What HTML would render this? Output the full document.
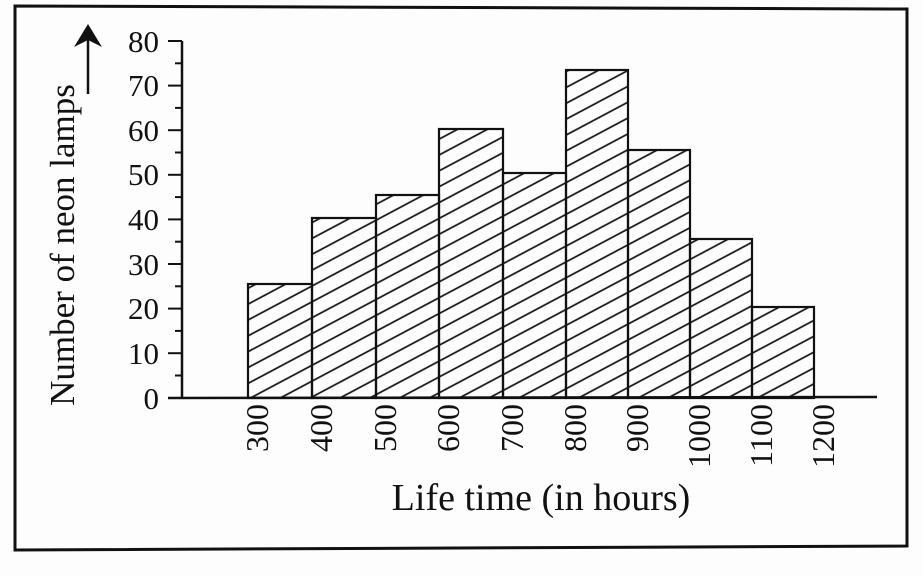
<!DOCTYPE html>
<html><head><style>body{margin:0;background:#fff}</style></head><body>
<svg width="923" height="577" xmlns="http://www.w3.org/2000/svg" font-family="Liberation Serif, serif">
<defs>
<pattern id="h" patternUnits="userSpaceOnUse" width="14" height="14" patternTransform="rotate(-28)">
<line x1="0" y1="7" x2="14" y2="7" stroke="#111" stroke-width="1.7"/>
</pattern>
</defs>
<rect x="0" y="0" width="923" height="577" fill="#fdfdfd"/>
<path d="M15 6 L907 9 L907 546 L15 550 Z" fill="none" stroke="#111" stroke-width="3"/>
<line x1="182" y1="41" x2="182" y2="398" stroke="#111" stroke-width="2.5"/>
<line x1="168" y1="398" x2="877" y2="397" stroke="#111" stroke-width="2.5"/>
<g stroke="#111" stroke-width="2">
<line x1="168" y1="41" x2="182" y2="41"/><line x1="168" y1="85.6" x2="182" y2="85.6"/><line x1="168" y1="130.2" x2="182" y2="130.2"/><line x1="168" y1="174.8" x2="182" y2="174.8"/><line x1="168" y1="219.4" x2="182" y2="219.4"/><line x1="168" y1="264" x2="182" y2="264"/><line x1="168" y1="308.6" x2="182" y2="308.6"/><line x1="168" y1="353.2" x2="182" y2="353.2"/>
<line x1="175" y1="63.3" x2="182" y2="63.3"/><line x1="175" y1="107.9" x2="182" y2="107.9"/><line x1="175" y1="152.5" x2="182" y2="152.5"/><line x1="175" y1="197.1" x2="182" y2="197.1"/><line x1="175" y1="241.7" x2="182" y2="241.7"/><line x1="175" y1="286.3" x2="182" y2="286.3"/><line x1="175" y1="330.9" x2="182" y2="330.9"/><line x1="175" y1="375.5" x2="182" y2="375.5"/>
</g>
<g font-size="31" fill="#111" text-anchor="end">
<text x="159" y="52">80</text><text x="159" y="96">70</text><text x="159" y="141">60</text><text x="159" y="185">50</text><text x="159" y="230">40</text><text x="159" y="275">30</text><text x="159" y="319">20</text><text x="159" y="364">10</text><text x="159" y="409">0</text>
</g>
<g fill="url(#h)" stroke="#111" stroke-width="2.2">
<rect x="248" y="284" width="64" height="114"/>
<rect x="312" y="218" width="64" height="180"/>
<rect x="376" y="195" width="63" height="203"/>
<rect x="439" y="129" width="64" height="269"/>
<rect x="503" y="173" width="63" height="225"/>
<rect x="566" y="70" width="62" height="328"/>
<rect x="628" y="150" width="62" height="248"/>
<rect x="690" y="239" width="62" height="159"/>
<rect x="752" y="307" width="62" height="91"/>
</g>
<g font-size="32" fill="#111" text-anchor="end">
<text transform="translate(268,404) rotate(-90)">300</text>
<text transform="translate(332,404) rotate(-90)">400</text>
<text transform="translate(396,404) rotate(-90)">500</text>
<text transform="translate(459,404) rotate(-90)">600</text>
<text transform="translate(523,404) rotate(-90)">700</text>
<text transform="translate(586,404) rotate(-90)">800</text>
<text transform="translate(648,404) rotate(-90)">900</text>
<text transform="translate(710,404) rotate(-90)">1000</text>
<text transform="translate(772,404) rotate(-90)">1100</text>
<text transform="translate(834,404) rotate(-90)">1200</text>
</g>
<text x="541" y="510" font-size="38" text-anchor="middle" fill="#111">Life time (in hours)</text>
<text transform="translate(74,245) rotate(-90)" font-size="35" text-anchor="middle" fill="#111">Number of neon lamps</text>
<line x1="88" y1="94" x2="88" y2="35" stroke="#111" stroke-width="2.5"/>
<path d="M88 24 L74 47 L88 40 L102 47 Z" fill="#111"/>
</svg>
</body></html>
